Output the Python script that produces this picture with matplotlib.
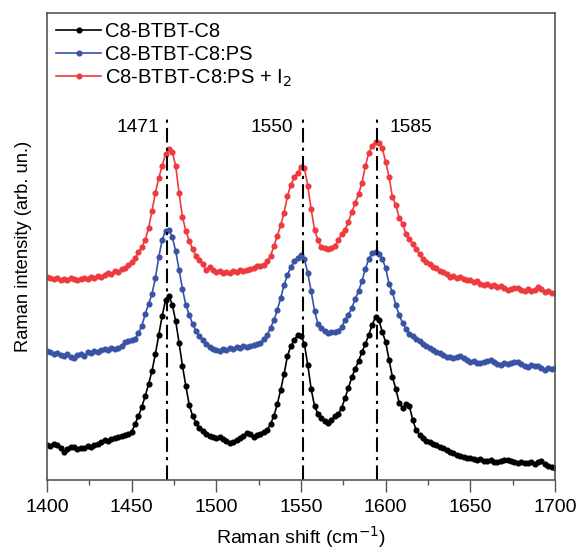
import numpy as np
import matplotlib
matplotlib.use("Agg")
import matplotlib.pyplot as plt

plt.rcParams['font.family'] = ['Liberation Sans', 'DejaVu Sans']

# Raman shift grid (cm-1), one point every 2 cm-1
shift = np.arange(1400, 1701, 2)

# intensities (arb. units, stacked as in the figure)
c8_btbt = [
    35, 34, 36, 35, 32, 28, 31, 33, 33, 31,
    32, 32, 34, 33, 35, 36, 38, 40, 39, 41,
    42, 43, 44, 45, 46, 48, 56, 64, 73, 84,
    96, 109, 126, 145, 164, 180, 184, 175, 159, 137,
    114, 94, 75, 64, 57, 52, 49, 46, 44, 43,
    42, 43, 41, 39, 37, 38, 40, 42, 44, 47,
    46, 43, 45, 46, 48, 50, 56, 64, 76, 90,
    106, 124, 134, 140, 145, 144, 136, 115, 91, 74,
    66, 62, 59, 57, 60, 64, 66, 72, 82, 92,
    103, 111, 119, 128, 136, 145, 155, 163, 160, 148,
    138, 120, 103, 91, 77, 72, 76, 74, 60, 50,
    45, 42, 39, 38, 36, 35, 33, 32, 30, 28,
    27, 25, 24, 23, 22, 22, 21, 20, 21, 19,
    19, 20, 18, 18, 19, 20, 20, 19, 18, 17,
    18, 17, 17, 18, 16, 18, 19, 16, 14, 13,
    12,
]

c8_btbt_ps = [
    129, 128, 126, 127, 125, 124, 126, 123, 122, 125,
    126, 124, 128, 127, 129, 128, 130, 131, 130, 132,
    131, 132, 134, 138, 139, 140, 141, 147, 154, 166,
    176, 186, 202, 223, 240, 249, 250, 243, 229, 210,
    191, 175, 165, 156, 149, 144, 140, 136, 133, 131,
    130, 129, 131, 130, 132, 131, 133, 132, 134, 133,
    134, 135, 136, 137, 141, 145, 152, 160, 170, 182,
    195, 205, 213, 219, 222, 225, 221, 207, 189, 169,
    156, 152, 149, 147, 148, 148, 149, 153, 160, 165,
    172, 181, 189, 199, 211, 221, 227, 228, 226, 221,
    212, 196, 188, 175, 165, 157, 151, 146, 144, 141,
    139, 136, 134, 132, 130, 128, 127, 125, 123, 123,
    122, 123, 124, 122, 120, 118, 119, 117, 117, 118,
    119, 120, 118, 116, 115, 117, 116, 117, 118, 118,
    116, 114, 113, 115, 114, 114, 112, 110, 112, 111,
    112,
]

c8_btbt_ps_i2 = [
    203, 202, 201, 202, 200, 201, 200, 202, 201, 200,
    201, 202, 201, 203, 202, 204, 203, 205, 207, 206,
    209, 208, 211, 212, 215, 218, 222, 228, 233, 240,
    252, 269, 287, 302, 314, 326, 331, 328, 314, 287,
    263, 249, 239, 231, 224, 220, 216, 210, 213, 210,
    208, 209, 207, 208, 207, 209, 208, 210, 209, 210,
    211, 212, 214, 214, 215, 219, 224, 234, 244, 255,
    267, 284, 295, 303, 307, 313, 312, 294, 271, 250,
    240, 233, 232, 231, 232, 234, 240, 246, 250, 258,
    268, 277, 286, 297, 314, 327, 334, 338, 337, 332,
    318, 303, 283, 275, 262, 256, 246, 241, 236, 231,
    226, 221, 218, 216, 213, 212, 209, 208, 206, 203,
    204, 202, 203, 201, 200, 200, 198, 199, 196, 195,
    196, 194, 195, 193, 194, 192, 190, 191, 192, 192,
    190, 189, 191, 189, 190, 193, 191, 188, 189, 187,
    187,
]

labels = ['C8-BTBT-C8', 'C8-BTBT-C8:PS', 'C8-BTBT-C8:PS + I$_2$']
colors = ['#000000', '#3953a4', '#ee3a3e']

# peak markers: where the lines are drawn and the text written next to them
peak_pos = [1471, 1551, 1595]
peak_text = ['1471', '1550', '1585']
text_x = [1466, 1545, 1602]
text_ha = ['right', 'right', 'left']

fig = plt.figure(figsize=(5.78, 5.59), dpi=100)
ax = fig.add_axes([47 / 578, 79 / 559, 508 / 578, 467 / 559])

for ys, lab, col in zip([c8_btbt, c8_btbt_ps, c8_btbt_ps_i2], labels, colors):
    ax.plot(shift, ys, '-o', color=col, lw=1.2, ms=3.4, label=lab)

for p, t, tx, ha in zip(peak_pos, peak_text, text_x, text_ha):
    ax.plot([p, p], [0, 365], color='black', lw=1.5, ls=(0, (7, 2.5, 1.5, 2.5)))
    ax.text(tx, 352, t, ha=ha, va='center', fontsize=13.8)

ax.set_xlim(1400, 1700)
ax.set_ylim(0, 467)
ax.set_xticks(np.arange(1400, 1701, 50))
ax.set_xticks(np.arange(1425, 1700, 50), minor=True)
ax.set_yticks([])
ax.tick_params(axis='x', which='major', direction='out', length=8.5, width=1,
               color='#555555', labelsize=14, pad=5)
ax.tick_params(axis='x', which='minor', direction='out', length=3.5, width=1,
               color='#555555')
for s in ax.spines.values():
    s.set_color('#555555')
    s.set_linewidth(1.2)

ax.set_xlabel('Raman shift (cm$^{-1}$)', fontsize=14, labelpad=6)
ax.set_ylabel('Raman intensity (arb. un.)', fontsize=13.2)
ax.yaxis.set_label_coords(-0.03, 0.50)

ax.legend(loc='upper left', frameon=False, fontsize=14.5, handlelength=2.25,
          handletextpad=0.2, labelspacing=0.18, borderaxespad=0.35,
          borderpad=0.1)

fig.savefig('out.png', dpi=100)
